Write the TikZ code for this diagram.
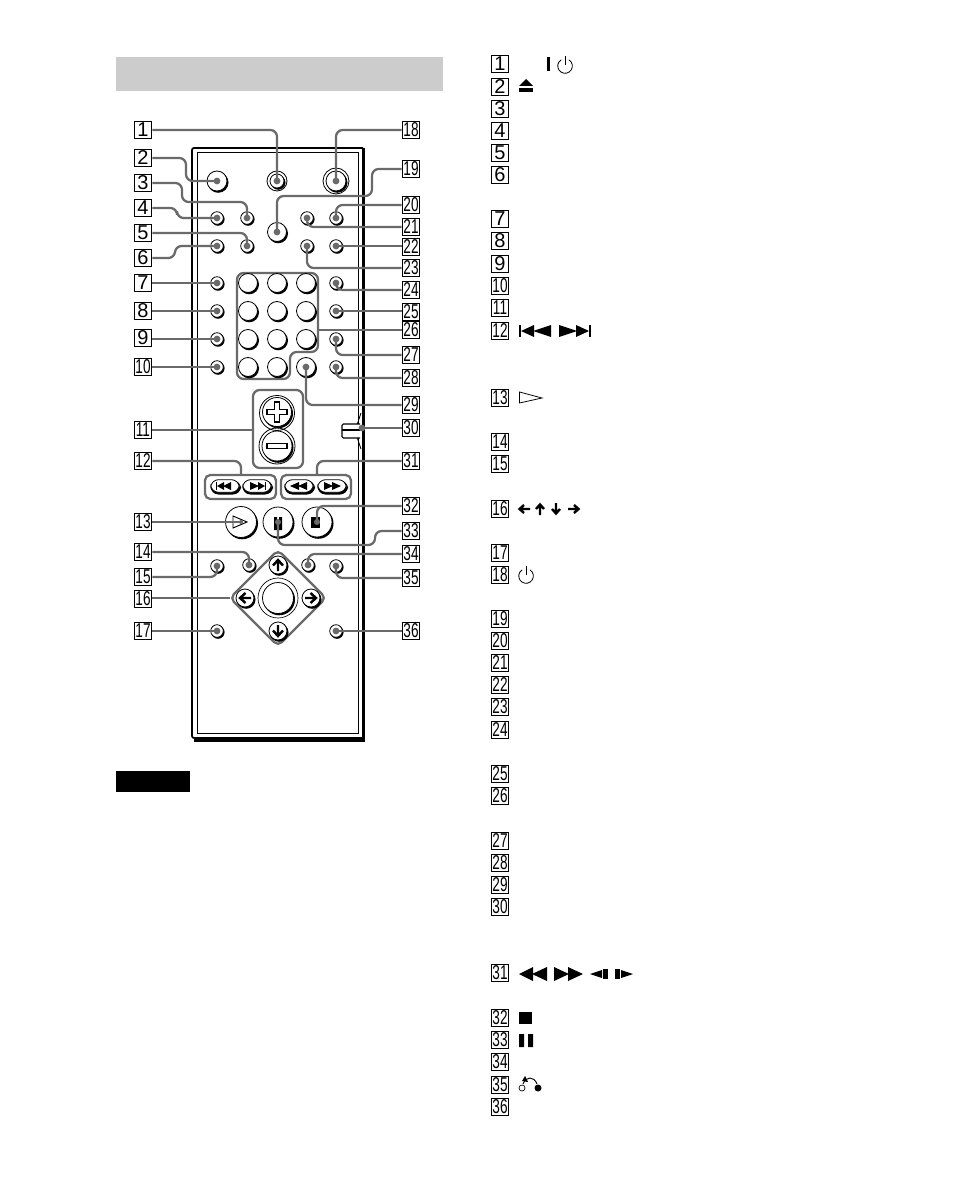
\documentclass[tikz,border=0pt]{standalone}
\usepackage{fontspec}
\usepackage{graphicx}
\setmainfont{Liberation Sans}
\definecolor{leadc}{HTML}{6A6A6A}
\definecolor{band}{HTML}{CCCCCC}
\tikzset{
 num/.style={draw=black,line width=0.8pt,fill=white,minimum width=13.4pt,minimum height=13.4pt,inner sep=0pt,font=\fontsize{15}{15}\selectfont},
 leadline/.style={draw=leadc,line width=1.7pt,rounded corners=5pt},
 group/.style={draw=leadc,line width=1.7pt,fill=white},
}
\newcommand{\lnum}[3]{\node[num] (#1) at #2 {#3};}
\newcommand{\tnum}[3]{\node[num] (#1) at #2 {\scalebox{0.68}[1]{#3}};}
\newcommand{\smb}[3]{%
 \fill[black] (#2+1,#3+1.2) circle (6.6);
 \node[circle,draw=black,line width=0.6pt,fill=white,minimum size=9.4pt,inner sep=0pt] (#1) at (#2,#3) {};
 \fill[leadc] (#2,#3) circle (3.4);}
\newcommand{\bgb}[4]{%
 \fill[black] (#2+1.2,#3+1.5) circle (#4+0.3);
 \node[circle,draw=black,line width=0.6pt,fill=white,minimum size=#4*1.5pt,inner sep=0pt] (#1) at (#2,#3) {};}
\newcommand{\pwr}[2]{%
 \draw[line width=0.6pt] (#1+3.9,#2-6.2) arc (-58:238:7.3);
 \draw[line width=0.6pt] (#1,#2-10) -- (#1,#2-1);}
\newcommand{\plb}[3]{%
 \fill[black,rounded corners=6pt] (#2-14.5,#3-5.5) rectangle (#2+16,#3+8.5);
 \node[draw=black,line width=0.6pt,fill=white,rounded corners=6pt,minimum width=21.5pt,minimum height=9.5pt,inner sep=0pt] (#1) at (#2,#3) {};}
\begin{document}
\begin{tikzpicture}[x=0.75pt,y=-0.75pt]
\useasboundingbox (0,0) rectangle (954,1201);
\fill[band] (116,57) rectangle (443,91);
\fill[black] (116,771) rectangle (190,792);
% remote body
\draw[line width=1.3pt,rounded corners=1.5pt] (363,148) -- (192,148) -- (192,738) -- (363,738);
\draw[line width=2.6pt] (363.5,148) -- (363.5,740) -- (194,740);
\draw[line width=0.7pt] (197,152) rectangle (358,733);
% switch
\draw[line width=0.7pt] (361,413) -- (357,425) (357,437) -- (361,449);
\draw[line width=0.8pt,fill=white,rounded corners=1pt] (360,424) -- (342,424) -- (342,438) -- (360,438);
\draw[line width=1.2pt] (342,430) -- (361,430);
% group outlines
\draw[group,rounded corners=5pt] (237,273) -- (318,273) -- (318,352) -- (290,352) -- (290,379) -- (237,379) -- cycle;
\draw[group,rounded corners=5pt] (253,390) rectangle (303,468);
\draw[group,rounded corners=4pt] (205,475) rectangle (276,499);
\draw[group,rounded corners=4pt] (281,475) rectangle (351,499);
\draw[group,rounded corners=4pt] (278,550) -- (326,598) -- (278,646) -- (230,598) -- cycle;
% buttons
\bgb{b2}{217}{181}{10}\fill[leadc] (b2) circle (3.4);
\draw[line width=0.6pt] (277,181) circle (10);
\bgb{b1}{277}{181}{7}\fill[leadc] (b1) circle (3.4);
\draw[line width=0.6pt] (336,181) circle (13);
\bgb{b18}{336}{181}{10}\fill[leadc] (b18) circle (3.4);
\smb{b4}{217}{218}\smb{b3}{247}{218}\smb{b21}{307}{218}\smb{b20}{336}{218}
\bgb{b19}{277}{232}{9.5}\fill[leadc] (b19) circle (3.4);
\smb{b6}{217}{246}\smb{b5}{247}{246}\smb{b23}{307}{246}\smb{b22}{336}{246}
\smb{b7}{217}{283}\smb{b8}{217}{311}\smb{b9}{217}{339}\smb{b10}{217}{367}
\smb{b24}{336}{283}\smb{b25}{336}{311}\smb{b27}{336}{339}\smb{b28}{336}{367}
\bgb{n1}{248}{283}{9.5}\bgb{n2}{277}{283}{9.5}\bgb{n3}{306}{283}{9.5}
\bgb{n4}{248}{311}{9.5}\bgb{n5}{277}{311}{9.5}\bgb{n6}{306}{311}{9.5}
\bgb{n7}{248}{339}{9.5}\bgb{n8}{277}{339}{9.5}\bgb{n9}{306}{339}{9.5}
\bgb{n10}{248}{367}{9.5}\bgb{n11}{277}{367}{9.5}
\bgb{b29}{306}{367}{9.5}\fill[leadc] (b29) circle (3.4);
% volume
\draw[line width=0.6pt] (277,413) circle (17.5);
\draw[line width=0.6pt] (277,446) circle (18);
\bgb{vp}{277}{412}{14.5}\bgb{vm}{277}{446}{15}
\draw[line width=0.8pt,fill=white] (274.5,402) -- (279.5,402) -- (279.5,409.5) -- (287,409.5) -- (287,414.5) -- (279.5,414.5) -- (279.5,422) -- (274.5,422) -- (274.5,414.5) -- (267,414.5) -- (267,409.5) -- (274.5,409.5) -- cycle;
\draw[line width=0.8pt,fill=white] (267,443.5) rectangle (287,448.5);
% pills
\plb{p1}{225}{486}\plb{p2}{257}{486}\plb{p3}{299}{486}\plb{p4}{332}{486}
\fill (216,482) rectangle (217,490); \fill (217,486) -- (224,482) -- (224,490) -- cycle; \fill (223,486) -- (231,482) -- (231,490) -- cycle;
\fill (266,482) rectangle (265,490); \fill (265,486) -- (258,482) -- (258,490) -- cycle; \fill (259,486) -- (250,482) -- (250,490) -- cycle;
\fill (290,486) -- (299,482) -- (299,490) -- cycle; \fill (298,486) -- (307,482) -- (307,490) -- cycle;
\fill (341,486) -- (332,482) -- (332,490) -- cycle; \fill (333,486) -- (324,482) -- (324,490) -- cycle;
% transport
\bgb{bplay}{241}{522}{15.5}\bgb{bpause}{278}{522}{15}\bgb{bstop}{317}{522}{15}
\draw[line width=0.7pt] (233,516) -- (247,522) -- (233,528) -- cycle;
\fill (274,517) rectangle (277,530) (279,517) rectangle (282,530);
\fill (311,517) rectangle (320,528);
% lower row
\smb{b15}{217}{566}\smb{b14}{249}{565}\smb{b34}{308}{565}\smb{b35}{336}{566}
\smb{b17}{217}{631}\smb{b36}{336}{631}
\draw[line width=0.5pt] (278,598) circle (20);
\bgb{bc}{278}{598}{15.5}
\bgb{au}{278}{565}{9}\bgb{ad}{278}{631}{9}\bgb{al}{245}{598}{9}\bgb{ar}{311}{598}{9}
\draw[line width=1.8pt] (278,571) -- (278,562) (273,565.5) -- (278,560) -- (283,565.5);
\draw[line width=1.8pt] (278,625) -- (278,634) (273,630.5) -- (278,636) -- (283,630.5);
\draw[line width=1.8pt] (251,598) -- (242,598) (245.5,593) -- (240,598) -- (245.5,603);
\draw[line width=1.8pt] (305,598) -- (314,598) (310.5,593) -- (316,598) -- (310.5,603);
% numbers around remote
\foreach \n/\y in {1/130,2/158,3/183,4/208,5/233,6/258,7/283,8/311,9/338}{\lnum{l\n}{(143,\y)}{\n}}
\foreach \n/\y in {10/367,11/430,12/461,13/522,14/552,15/577,16/599,17/631}{\tnum{l\n}{(143,\y)}{\n}}
\foreach \n/\y in {18/130,19/169,20/205,21/227,22/247,23/268,24/290,25/312,26/330,27/355,28/378,29/405,30/428,31/461,32/506,33/531,34/554,35/578,36/631}{\tnum{l\n}{(411,\y)}{\n}}
% connectors
\draw[leadline] (l1.east) -| (b1.center);
\draw[leadline] (l2.east) -- (186,158) -- (186,181) -- (b2.center);
\draw[leadline] (l3.east) -- (182,183) -- (182,202) -- (247,202) -- (b3.center);
\draw[leadline] (l4.east) -- (177,208) -- (177,218) -- (b4.center);
\draw[leadline] (l5.east) -| (b5.center);
\draw[leadline] (l6.east) -- (175,258) -- (175,246) -- (b6.center);
\draw[leadline] (l7.east) -- (b7.center);
\draw[leadline] (l8.east) -- (b8.center);
\draw[leadline] (b9.center -| l9.east) -- (b9.center);
\draw[leadline] (l10.east) -- (b10.center);
\coordinate (g11) at (253,430);
\draw[leadline] (l11.east) -- (g11);
\coordinate (g12) at (241,475);
\draw[leadline] (l12.east) -| (g12);
\draw[leadline] (l13.east) -- (bplay.center);
\fill[leadc] (bplay.center) circle (2);
\draw[leadline] (l14.east) -| (b14.center);
\draw[leadline] (l15.east) -| (b15.center);
\coordinate (g16) at (230,598);
\draw[leadline] (g16 -| l16.east) -- (g16);
\draw[leadline] (l17.east) -- (b17.center);
\draw[leadline] (l18.west) -| (b18.center);
\draw[leadline] (l19.west) -- (372,169) -- (372,196) -- (277,196) -- (b19.center);
\draw[leadline] (l20.west) -| (b20.center);
\draw[leadline] (l21.west) -| (b21.center);
\draw[leadline] (b22.center -| l22.west) -- (b22.center);
\draw[leadline] (l23.west) -| (b23.center);
\draw[leadline] (l24.west) -| (b24.center);
\draw[leadline] (b25.center -| l25.west) -- (b25.center);
\coordinate (g26) at (318,330);
\draw[leadline] (l26.west) -- (g26);
\draw[leadline] (l27.west) -| (b27.center);
\draw[leadline] (l28.west) -| (b28.center);
\draw[leadline] (l29.west) -| (b29.center);
\coordinate (g30) at (362,428);
\draw[leadline] (l30.west) -- (g30);
\fill[leadc] (g30) circle (3.4);
\coordinate (g31) at (317,475);
\draw[leadline] (l31.west) -| (g31);
\draw[leadline] (l32.west) -| (bstop.center);
\fill[leadc] (bstop.center) circle (3);
\draw[leadline] (l33.west) -- (375,531) -- (375,545) -- (278,545) -- (bpause.center);
\fill[leadc] (bpause.center) circle (3);
\draw[leadline] (l34.west) -| (b34.center);
\draw[leadline] (l35.west) -| (b35.center);
\draw[leadline] (l36.west) -- (b36.center);
% right-hand list
\foreach \n/\y in {1/64,2/87,3/109,4/131,5/153,6/175,7/219,8/241,9/264}{\lnum{r\n}{(500,\y)}{\n}}
\foreach \n/\y in {10/286,11/308,12/331,13/398,14/442,15/464,16/509,17/553,18/575,19/619,20/641,21/663,22/685,23/707,24/730,25/774,26/796,27/841,28/863,29/885,30/907,31/973,32/1018,33/1040,34/1062,35/1085,36/1107}{\tnum{r\n}{(500,\y)}{\n}}
% icons
\fill (547,57) rectangle (550,71);
\pwr{565}{66}
\fill (519,86) -- (526,79) -- (533,86) -- cycle; \fill (519,88) rectangle (533,92);
\fill (519,325) rectangle (521,337); \fill (521,331) -- (534,325) -- (534,337) -- cycle; \fill (533,331) -- (551,325) -- (551,337) -- cycle;
\fill (589,325) rectangle (591,337); \fill (589,331) -- (576,325) -- (576,337) -- cycle; \fill (577,331) -- (559,325) -- (559,337) -- cycle;
\draw[line width=0.6pt] (519.5,392) -- (542,398) -- (519.5,403) -- cycle;
\draw[line width=1.8pt] (530,509) -- (520,509) (524,505) -- (519.5,509) -- (524,513);
\draw[line width=1.8pt] (540,515) -- (540,505) (536,509) -- (540,504.5) -- (544,509);
\draw[line width=1.8pt] (556,503) -- (556,513) (552,509) -- (556,513.5) -- (560,509);
\draw[line width=1.8pt] (568,509) -- (578,509) (574,505) -- (578.5,509) -- (574,513);
\pwr{526}{576}
\fill (519,974) -- (533,967) -- (533,981) -- cycle; \fill (532,974) -- (547,967) -- (547,981) -- cycle;
\fill (554,967) -- (569,974) -- (554,981) -- cycle; \fill (568,967) -- (583,974) -- (568,981) -- cycle;
\fill (590,974) -- (602,970) -- (602,978) -- cycle; \fill (603,969) rectangle (608,979);
\fill (615,969) rectangle (620,979); \fill (621,970) -- (633,974) -- (621,978) -- cycle;
\fill (519,1012) rectangle (532,1024);
\fill (519,1034) rectangle (524,1047) (528,1034) rectangle (533,1047);
\draw[line width=0.5pt] (522,1088) circle (3);
\fill (538,1088) circle (3.5);
\draw[line width=0.7pt] (523,1084) .. controls (526,1076) and (534,1076) .. (537,1084);
\fill (522,1081) -- (525,1076) -- (528,1082) -- cycle;
\end{tikzpicture}
\end{document}
